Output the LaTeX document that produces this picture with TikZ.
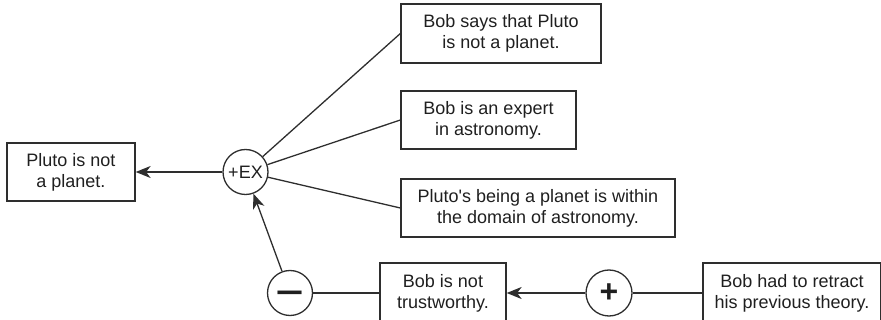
\documentclass[tikz,border=0pt]{standalone}
\usepackage{fontspec}
\setmainfont{Liberation Sans}
\usetikzlibrary{arrows.meta}
\begin{document}
\begin{tikzpicture}[x=1pt,y=-1pt,
  ink/.style={draw=black!82,line width=1.3pt},
  claim/.style={ink,rectangle,align=center,inner sep=0pt,
    font=\fontsize{18}{21}\selectfont,text=black!88},
  scheme/.style={ink,circle,minimum size=45pt,inner sep=0pt,
    font=\fontsize{18}{21}\selectfont,text=black!88},
  link/.style={ink},
  support/.style={ink,-{Stealth[length=15pt,width=12pt,inset=4.5pt]}}]
  \useasboundingbox (0,0) rectangle (881,320);

  % conclusion and premises
  \node[claim,minimum width=128pt,minimum height=58pt] (pluto) at (71,172)
    {Pluto is not\\a planet.};
  \node[claim,minimum width=200pt,minimum height=59pt] (says) at (501,33.5)
    {Bob says that Pluto\\is not a planet.};
  \node[claim,minimum width=175pt,minimum height=58pt] (expert) at (488.5,120)
    {Bob is an expert\\in astronomy.};
  \node[claim,minimum width=274pt,minimum height=58pt] (domain) at (538,208)
    {Pluto\textquotesingle s being a planet is within\\the domain of astronomy.};

  % attack chain along the bottom
  \node[claim,minimum width=126pt,minimum height=60pt] (untrust) at (443,293)
    {Bob is not\\trustworthy.};
  \node[claim,minimum width=178pt,minimum height=60pt] (retract) at (792,293)
    {Bob had to retract\\his previous theory.};

  % argument scheme nodes; the minus is smashed so its bar sits on the centre
  \node[scheme] (con) at (290,293)
    {\smash{\raisebox{-9.5pt}{\scalebox{1.35}[1]{\fontsize{36}{36}\selectfont\bfseries –}}}};
  \node[scheme] (ex) at (245.5,172) {+EX};
  \node[scheme,minimum size=46pt] (pro) at (609,293)
    {\fontsize{32}{32}\selectfont\bfseries +};

  % connectors
  \draw[link] (says.west) -- (ex);
  \draw[link] (expert.west) -- (ex);
  \draw[link] (domain.west) -- (ex);
  \draw[support] (ex) -- (pluto);
  \draw[support] (con) -- (ex);
  \draw[link] (untrust) -- (con);
  \draw[support] (pro) -- (untrust);
  \draw[link] (retract) -- (pro);
\end{tikzpicture}
\end{document}
